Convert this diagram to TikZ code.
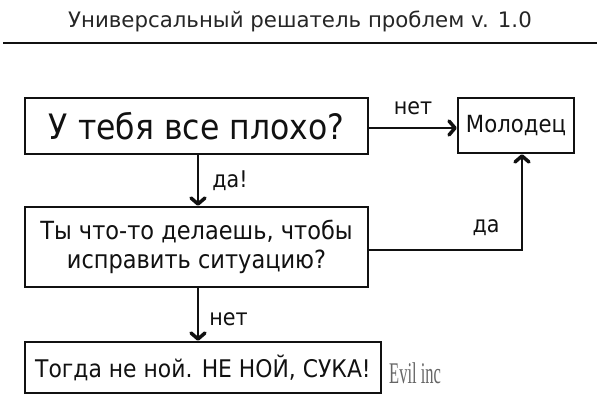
\documentclass[tikz,border=0pt]{standalone}
\usepackage{fontspec}
\setmainfont{DejaVu Sans}
\newfontfamily\tah{DejaVu Sans}[FakeStretch=0.9]
\newfontfamily\ttlfont{DejaVu Sans}
\newfontfamily\evilfont{Liberation Serif}[FakeStretch=0.55]
\usetikzlibrary{arrows.meta}
\definecolor{ink}{HTML}{111111}
\tikzset{
  box/.style={draw=ink, line width=2.5pt, inner sep=0pt, text=ink, align=center},
  arr/.style={draw=ink, line width=2pt, -{Straight Barb[length=6pt,width=14pt,line width=3.5pt,round]}},
  lbl/.style={text=ink, inner sep=0pt, anchor=base, font=\tah\fontsize{23}{23}\selectfont}
}
\begin{document}
\begin{tikzpicture}[x=1pt,y=-1pt]
\useasboundingbox (0,0) rectangle (600,417);
\fill[white] (0,0) rectangle (600,417);
\node[text=black!85, inner sep=0pt, anchor=base, font=\ttlfont\fontsize{21.3}{21.3}\selectfont] (title) at (300,28) {Универсальный решатель проблем v. 1.0};
\coordinate (rl) at (3,43);
\coordinate (rr) at (597,43);
\draw[line width=2pt, draw=ink] (rl) -- (rr);

\node[box, minimum width=343pt, minimum height=56pt, font=\tah\fontsize{35}{35}\selectfont] (b1) at (196.5,126) {У тебя все плохо?};
\node[box, minimum width=116pt, minimum height=55pt, font=\tah\fontsize{23.6}{23.6}\selectfont] (mol) at (516,125.5) {Молодец};
\node[box, minimum width=343pt, minimum height=80pt, font=\tah\fontsize{25}{29}\selectfont] (b2) at (196.5,247) {Ты что-то делаешь, чтобы\\исправить ситуацию?};
\node[box, minimum width=356pt, minimum height=51pt, font=\tah\fontsize{24.3}{24.3}\selectfont] (b3) at (203,367.5) {Тогда не ной. НЕ НОЙ, СУКА!};

\draw[arr] ([yshift=-2pt]b1.east) -- ([yshift=-2pt]b1.east -| mol.west);
\node[lbl] (l1) at (413,115) {нет};
\draw[arr] ([xshift=1.5pt]b1.south) -- ([xshift=1.5pt]b1.south |- b2.north);
\node[lbl] (l2) at (230,188) {да!};
\draw[arr] ([yshift=-3pt]b2.east) -| ([xshift=6pt]mol.south);
\node[lbl] (l3) at (486,233) {да};
\draw[arr] ([xshift=1.5pt]b2.south) -- ([xshift=1.5pt]b2.south |- b3.north);
\node[lbl] (l4) at (228.5,325) {нет};

\node[text=black!60, inner sep=0pt, anchor=base west, font=\evilfont\fontsize{30}{30}\selectfont] (evil) at (389,383) {Evil inc};
\end{tikzpicture}
\end{document}
